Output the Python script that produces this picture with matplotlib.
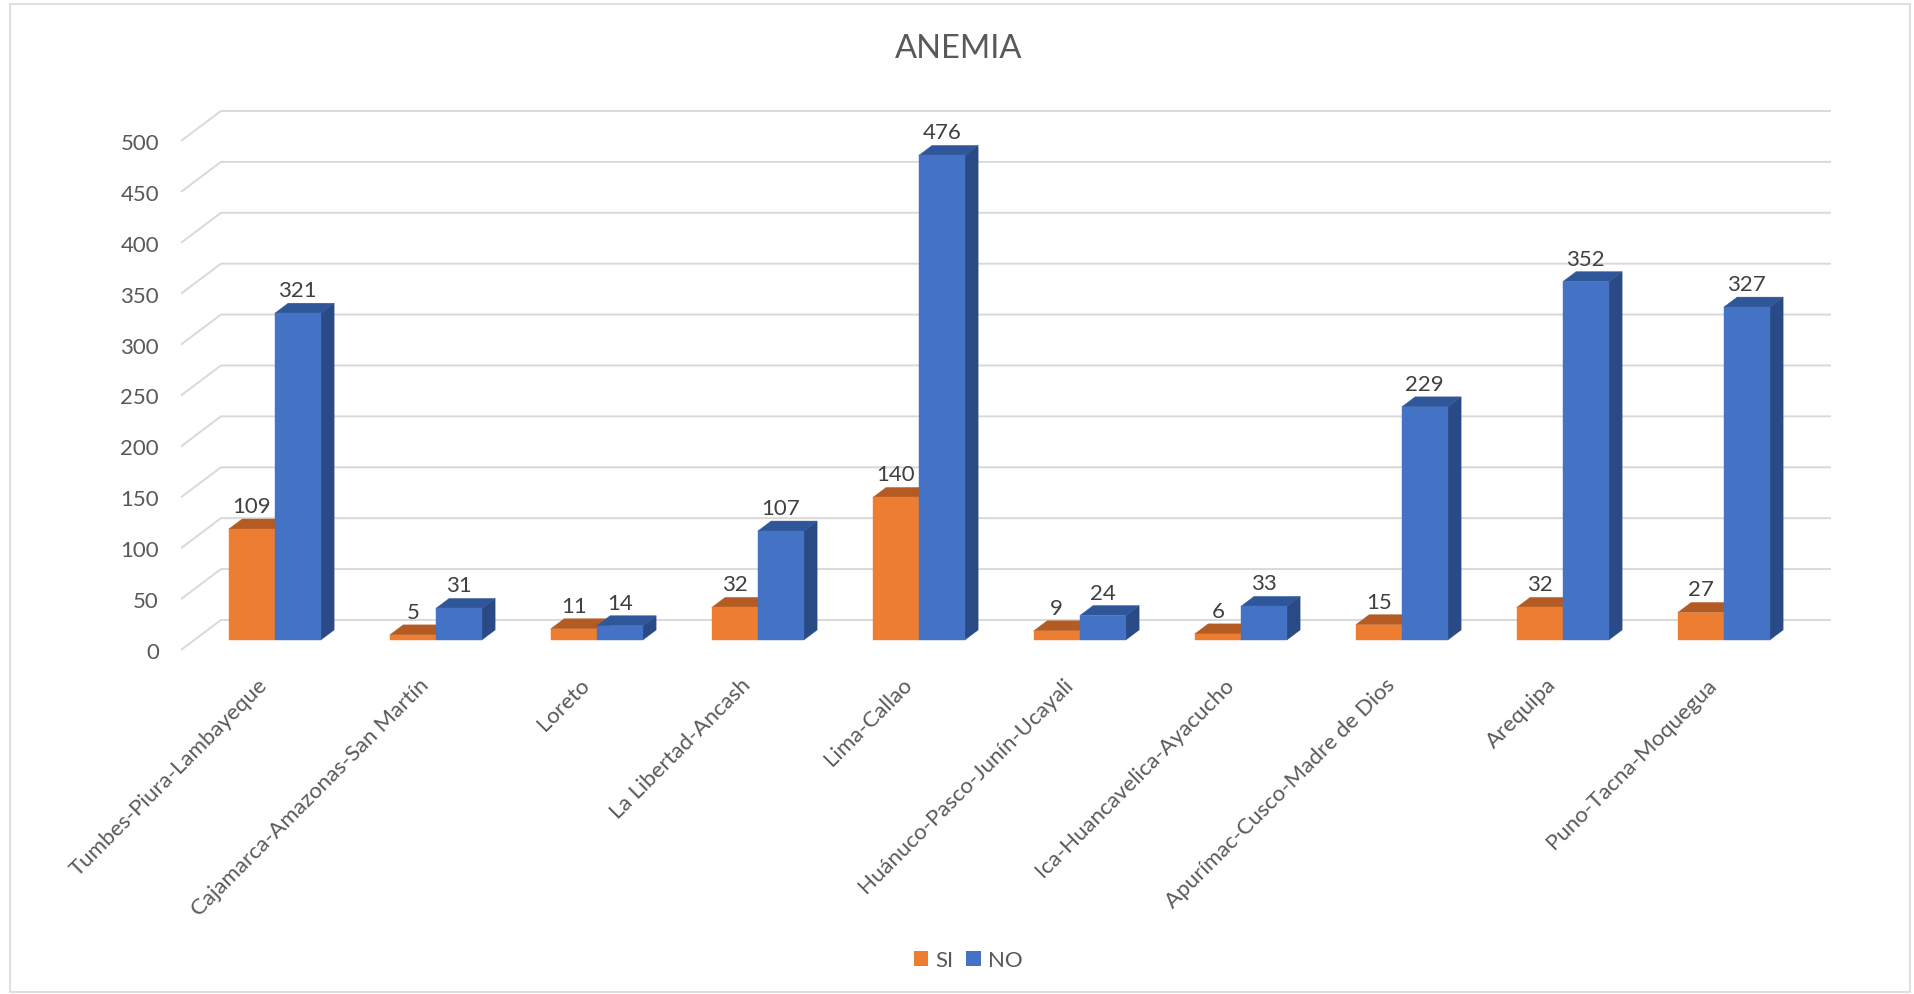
import matplotlib
matplotlib.use("Agg")
import matplotlib.pyplot as plt
from matplotlib.patches import Polygon, Rectangle, Patch
from matplotlib.transforms import offset_copy

# ---- data -------------------------------------------------------------
regions = [
    "Tumbes-Piura-Lambayeque",
    "Cajamarca-Amazonas-San Martín",
    "Loreto",
    "La Libertad-Ancash",
    "Lima-Callao",
    "Huánuco-Pasco-Junín-Ucayali",
    "Ica-Huancavelica-Ayacucho",
    "Apurímac-Cusco-Madre de Dios",
    "Arequipa",
    "Puno-Tacna-Moquegua",
]
si_values = [109, 5, 11, 32, 140, 9, 6, 15, 32, 27]
no_values = [321, 31, 14, 107, 476, 24, 33, 229, 352, 327]
series_names = ["SI", "NO"]
y_ticks = list(range(0, 501, 50))
title = "ANEMIA"

# ---- style ------------------------------------------------------------
plt.rcParams["font.family"] = ["Lato", "DejaVu Sans"]
TEXT = "#595959"
LABEL = "#404040"
GRID = "#D9D9D9"
FS = 16
faces = {
    "SI": dict(front="#ED7D31", top="#B45B24", side="#AE5720"),
    "NO": dict(front="#4472C4", top="#30569A", side="#294A84"),
}

W, H = 1914, 995
fig = plt.figure(figsize=(W / 100, H / 100), dpi=100)
fig.patch.set_facecolor("white")

# chart frame
fig.add_artist(Rectangle((10 / W, 2 / H), 1900 / W, 988 / H,
                         transform=fig.transFigure, fill=False,
                         edgecolor=GRID, linewidth=1.2))

ax = fig.add_axes([181 / W, (H - 651) / H, 1610 / W, 509 / H])
n = len(regions)
ax.set_xlim(0, n)
ax.set_ylim(0, 500)
ax.axis("off")

# oblique depth of the 3D box (category units, value units)
DX, DY = 0.248, 29.5
BAR_W = 1 / 3.5          # gap width 150 %

# back-wall gridlines with their left-wall diagonals
tick_tr = offset_copy(ax.transData, fig=fig, x=-22, y=-2, units="dots")
for v in y_ticks:
    ax.plot([0, DX, n + DX], [v, v + DY, v + DY], color=GRID, lw=1.4,
            solid_capstyle="butt", clip_on=False, zorder=1)
    ax.text(0, v, str(v), transform=tick_tr,
            ha="right", va="center", fontsize=FS, color=TEXT)

lab_tr = offset_copy(ax.transData, fig=fig, x=0, y=3, units="dots")
for i in range(n):
    for s, (name, vals) in enumerate(zip(series_names, [si_values, no_values])):
        v = vals[i]
        c = faces[name]
        x0 = i + 0.5 - BAR_W + s * BAR_W + DX / 3
        x1 = x0 + BAR_W
        y0 = DY / 3
        y1 = y0 + v
        ddx, ddy = DX / 3, DY / 3
        front = [(x0, y0), (x1, y0), (x1, y1), (x0, y1)]
        top = [(x0, y1), (x1, y1), (x1 + ddx, y1 + ddy), (x0 + ddx, y1 + ddy)]
        side = [(x1, y0), (x1 + ddx, y0 + ddy), (x1 + ddx, y1 + ddy), (x1, y1)]
        for poly, col in ((side, c["side"]), (top, c["top"]), (front, c["front"])):
            ax.add_patch(Polygon(poly, closed=True, facecolor=col, edgecolor=col,
                                 linewidth=0.3, clip_on=False, zorder=2 + i))
        ax.text((x0 + x1) / 2, y1 + ddy, str(v), transform=lab_tr,
                ha="center", va="bottom", fontsize=FS, color=LABEL, zorder=50)

# category labels
cat_tr = offset_copy(ax.transData, fig=fig, x=3, y=-31, units="dots")
for i, name in enumerate(regions):
    ax.text(i + 0.5, 0, name, transform=cat_tr, rotation=45, rotation_mode="anchor",
            ha="right", va="center", fontsize=FS, color=TEXT)

fig.text(959 / W, 1 - 49 / H, title, ha="center", va="center", fontsize=23.5, color=TEXT)

handles = [Patch(facecolor=faces[nm]["front"], edgecolor="none") for nm in series_names]
fig.legend(handles, series_names, loc="center", bbox_to_anchor=(968 / W, 1 - 961 / H),
           ncol=2, frameon=False, handlelength=0.65, handleheight=0.65,
           handletextpad=0.3, columnspacing=0.6, fontsize=FS, labelcolor=TEXT)

fig.savefig("out.png", dpi=100, facecolor="white")
